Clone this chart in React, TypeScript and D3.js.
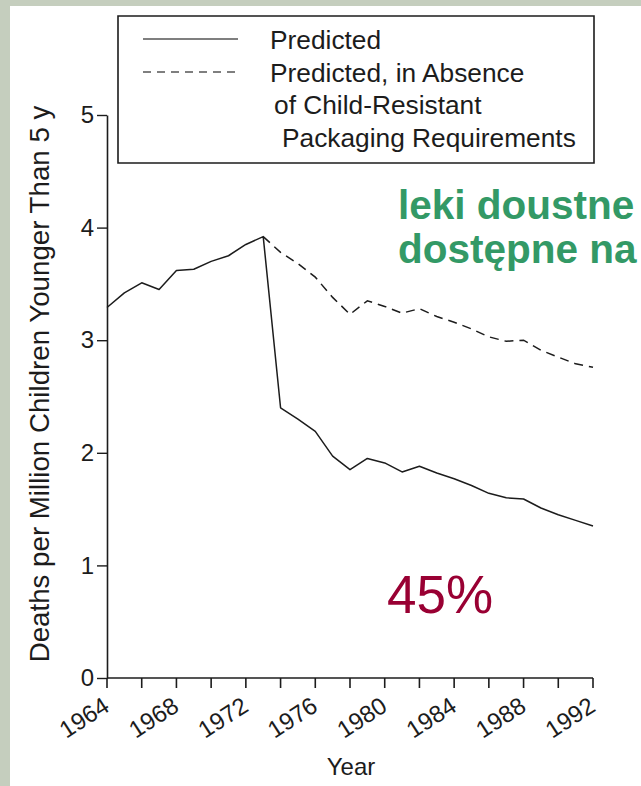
import React, { useEffect, useRef } from 'react';
import * as d3 from 'd3';

// values
const years = [1964, 1965, 1966, 1967, 1968, 1969, 1970, 1971, 1972, 1973, 1974, 1975, 1976, 1977, 1978,
  1979, 1980, 1981, 1982, 1983, 1984, 1985, 1986, 1987, 1988, 1989, 1990, 1991, 1992];
const predicted = [3.29, 3.42, 3.51, 3.45, 3.62, 3.63, 3.70, 3.75, 3.85, 3.92, 2.40, 2.30, 2.19, 1.97, 1.85,
  1.95, 1.91, 1.83, 1.88, 1.82, 1.77, 1.71, 1.64, 1.60, 1.59, 1.51, 1.45, 1.40, 1.35];
const absenceYears = [1973, 1974, 1975, 1976, 1977, 1978, 1979, 1980, 1981, 1982, 1983, 1984, 1985, 1986,
  1987, 1988, 1989, 1990, 1991, 1992];
const absence = [3.92, 3.78, 3.68, 3.56, 3.38, 3.23, 3.35, 3.30, 3.24, 3.28, 3.21, 3.16, 3.10, 3.03,
  2.99, 3.00, 2.91, 2.85, 2.79, 2.76];
const xTickYears = [1964, 1966, 1968, 1970, 1972, 1974, 1976, 1978, 1980, 1982, 1984, 1986, 1988, 1990, 1992];
const xLabelYears = [1964, 1968, 1972, 1976, 1980, 1984, 1988, 1992];
const yTicks = [0, 1, 2, 3, 4, 5];
const legendLines = ['Predicted', 'Predicted, in Absence', 'of Child-Resistant', 'Packaging Requirements'];
const noteLines = ['leki doustne', 'dostępne na'];
const percentNote = '45%';

const FONT = '"Liberation Sans", Arial, Helvetica, sans-serif';

export default function App() {
  const svgRef = useRef(null);

  useEffect(() => {
    const W = 641, H = 786;
    const svg = d3.select(svgRef.current);
    svg.selectAll('*').remove();

    // slide background + white panel
    svg.append('rect').attr('width', W).attr('height', H).attr('fill', '#c5cebe');
    svg.append('rect').attr('x', 10).attr('y', 6).attr('width', W - 10).attr('height', H - 6).attr('fill', '#fff');

    const x = d3.scaleLinear().domain([1964, 1992]).range([107, 593]);
    const y = d3.scaleLinear().domain([0, 5]).range([678, 115]);
    const ink = '#1c1c1c';

    // y axis
    const yAxis = svg.append('g')
      .attr('transform', 'translate(107,0)')
      .call(d3.axisLeft(y).tickValues(yTicks).tickSize(10).tickSizeOuter(0).tickPadding(3)
        .tickFormat(d3.format('d')));
    yAxis.select('.domain').attr('stroke', ink).attr('stroke-width', 1.6);
    yAxis.selectAll('.tick line').attr('stroke', ink).attr('stroke-width', 1.4);
    yAxis.selectAll('.tick text')
      .attr('font-family', FONT).attr('font-size', 24).attr('fill', ink);

    // x axis: baseline, tick marks and rotated year labels
    const xg = svg.append('g');
    xg.append('line')
      .attr('x1', x(1964)).attr('x2', x(1992)).attr('y1', y(0)).attr('y2', y(0))
      .attr('stroke', ink).attr('stroke-width', 1.6);
    xg.selectAll('line.xt')
      .data(xTickYears)
      .join('line')
      .attr('class', 'xt')
      .attr('x1', d => x(d)).attr('x2', d => x(d))
      .attr('y1', y(0)).attr('y2', y(0) + 10)
      .attr('stroke', ink).attr('stroke-width', 1.6);
    xg.selectAll('text.xl')
      .data(xLabelYears)
      .join('text')
      .attr('class', 'xl')
      .attr('transform', d => `translate(${x(d) + 4},${y(0) + 32}) rotate(-33)`)
      .attr('text-anchor', 'end')
      .attr('font-family', FONT).attr('font-size', 24).attr('fill', ink)
      .text(d => String(d));

    // axis titles
    svg.append('text')
      .attr('transform', `translate(49,384) rotate(-90)`)
      .attr('text-anchor', 'middle')
      .attr('font-family', FONT).attr('font-size', 27.7).attr('fill', ink)
      .text('Deaths per Million Children Younger Than 5 y');
    svg.append('text')
      .attr('x', 351).attr('y', 775)
      .attr('text-anchor', 'middle')
      .attr('font-family', FONT).attr('font-size', 24).attr('fill', ink)
      .text('Year');

    // lines
    const line = d3.line().x(d => x(d[0])).y(d => y(d[1]));
    svg.append('path')
      .datum(years.map((yr, i) => [yr, predicted[i]]))
      .attr('d', line).attr('fill', 'none')
      .attr('stroke', ink).attr('stroke-width', 1.5).attr('stroke-linejoin', 'round');
    svg.append('path')
      .datum(absenceYears.map((yr, i) => [yr, absence[i]]))
      .attr('d', line).attr('fill', 'none')
      .attr('stroke', ink).attr('stroke-width', 1.5).attr('stroke-dasharray', '9,6');

    // legend
    const lg = svg.append('g');
    lg.append('path')
      .attr('d', 'M118,163V16H594V163Z')
      .attr('fill', '#fff').attr('stroke', ink).attr('stroke-width', 1.6);
    lg.append('line').attr('x1', 143).attr('x2', 238).attr('y1', 39).attr('y2', 39)
      .attr('stroke', '#555').attr('stroke-width', 1.5);
    lg.append('line').attr('x1', 143).attr('x2', 238).attr('y1', 72).attr('y2', 72)
      .attr('stroke', '#555').attr('stroke-width', 1.5).attr('stroke-dasharray', '8,6');
    const legendX = [270, 270, 274, 282];
    lg.selectAll('text.leg')
      .data(legendLines)
      .join('text')
      .attr('class', 'leg')
      .attr('x', (d, i) => legendX[i])
      .attr('y', (d, i) => 49 + i * 32.5)
      .attr('font-family', FONT).attr('font-size', 26.3).attr('fill', ink)
      .text(d => d);

    // overlaid notes (kept just inside the right edge)
    svg.selectAll('text.note')
      .data(noteLines)
      .join('text')
      .attr('class', 'note')
      .attr('x', 398)
      .attr('y', (d, i) => 219 + i * 44)
      .attr('font-family', FONT).attr('font-size', 40.5).attr('font-weight', 'bold')
      .attr('fill', '#339966')
      .text(d => d);
    svg.append('text')
      .attr('x', 387).attr('y', 613)
      .attr('font-family', FONT).attr('font-size', 53).attr('fill', '#990033')
      .text(percentNote);
  }, []);

  return (
    <svg
      ref={svgRef}
      width="641"
      height="786"
      style={{ position: 'absolute', left: 0, top: 0, display: 'block' }}
    />
  );
}
